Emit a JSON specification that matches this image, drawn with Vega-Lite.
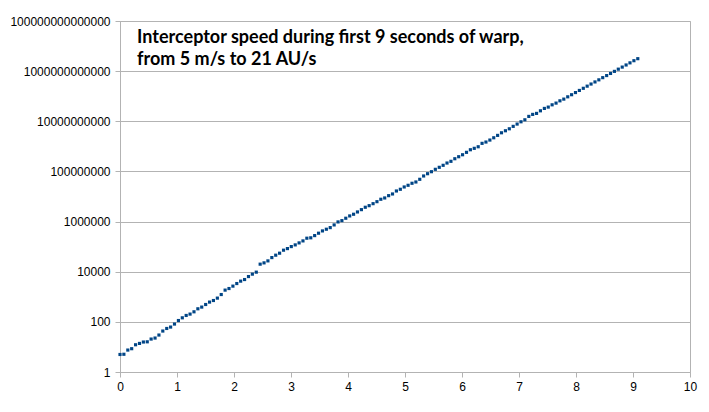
{
  "$schema": "https://vega.github.io/schema/vega-lite/v6.json",
  "width": 570,
  "height": 351,
  "autosize": {"type": "none"},
  "padding": {"left": 120, "top": 21, "right": 19, "bottom": 40},
  "background": "white",
  "config": {
    "view": {"stroke": "#b3b3b3", "strokeWidth": 1},
    "axis": {
      "labelFont": "Liberation Sans",
      "labelFontSize": 12,
      "labelColor": "#000000",
      "domainColor": "#b3b3b3",
      "tickColor": "#b3b3b3",
      "gridColor": "#b3b3b3",
      "tickSize": 5,
      "labelFlush": false,
      "title": null
    }
  },
  "layer": [
    {
      "data": {
        "values": [
          {"t": 0, "v": 5.0},
          {"t": 0.068, "v": 5.1},
          {"t": 0.137, "v": 7.5},
          {"t": 0.205, "v": 8.5},
          {"t": 0.273, "v": 12.2},
          {"t": 0.342, "v": 13.8},
          {"t": 0.41, "v": 15.7},
          {"t": 0.478, "v": 16},
          {"t": 0.546, "v": 20.6},
          {"t": 0.615, "v": 22.6},
          {"t": 0.683, "v": 29.8},
          {"t": 0.751, "v": 43},
          {"t": 0.82, "v": 54.5},
          {"t": 0.888, "v": 62},
          {"t": 0.956, "v": 81.6},
          {"t": 1.025, "v": 113},
          {"t": 1.093, "v": 145},
          {"t": 1.161, "v": 180},
          {"t": 1.229, "v": 204},
          {"t": 1.298, "v": 252},
          {"t": 1.366, "v": 332},
          {"t": 1.434, "v": 388},
          {"t": 1.503, "v": 492},
          {"t": 1.571, "v": 614},
          {"t": 1.639, "v": 710},
          {"t": 1.708, "v": 885},
          {"t": 1.776, "v": 1230},
          {"t": 1.844, "v": 1845},
          {"t": 1.912, "v": 2135},
          {"t": 1.981, "v": 2660},
          {"t": 2.049, "v": 3375},
          {"t": 2.117, "v": 4210},
          {"t": 2.186, "v": 4875},
          {"t": 2.254, "v": 6415},
          {"t": 2.322, "v": 8000},
          {"t": 2.391, "v": 9600},
          {"t": 2.459, "v": 20000},
          {"t": 2.527, "v": 22540},
          {"t": 2.595, "v": 27050},
          {"t": 2.664, "v": 36640},
          {"t": 2.732, "v": 45600},
          {"t": 2.8, "v": 54800},
          {"t": 2.869, "v": 72200},
          {"t": 2.937, "v": 83600},
          {"t": 3.005, "v": 1.005e5},
          {"t": 3.074, "v": 1.175e5},
          {"t": 3.142, "v": 1.41e5},
          {"t": 3.21, "v": 1.694e5},
          {"t": 3.278, "v": 2.17e5},
          {"t": 3.347, "v": 2.25e5},
          {"t": 3.415, "v": 2.755e5},
          {"t": 3.483, "v": 3.436e5},
          {"t": 3.552, "v": 4.24e5},
          {"t": 3.62, "v": 4.95e5},
          {"t": 3.688, "v": 5.74e5},
          {"t": 3.757, "v": 7.35e5},
          {"t": 3.825, "v": 9.68e5},
          {"t": 3.893, "v": 1.09e6},
          {"t": 3.961, "v": 1.358e6},
          {"t": 4.03, "v": 1.679e6},
          {"t": 4.098, "v": 1.96e6},
          {"t": 4.166, "v": 2.42e6},
          {"t": 4.235, "v": 2.99e6},
          {"t": 4.303, "v": 3.72e6},
          {"t": 4.371, "v": 4.31e6},
          {"t": 4.44, "v": 5.18e6},
          {"t": 4.508, "v": 6.22e6},
          {"t": 4.576, "v": 7.76e6},
          {"t": 4.644, "v": 8.74e6},
          {"t": 4.713, "v": 1.08e7},
          {"t": 4.781, "v": 1.262e7},
          {"t": 4.849, "v": 1.66e7},
          {"t": 4.918, "v": 1.94e7},
          {"t": 4.986, "v": 2.4e7},
          {"t": 5.054, "v": 2.8e7},
          {"t": 5.123, "v": 3.37e7},
          {"t": 5.191, "v": 3.79e7},
          {"t": 5.259, "v": 4.85e7},
          {"t": 5.327, "v": 6.58e7},
          {"t": 5.396, "v": 8.11e7},
          {"t": 5.464, "v": 9.75e7},
          {"t": 5.532, "v": 1.214e8},
          {"t": 5.601, "v": 1.459e8},
          {"t": 5.669, "v": 1.754e8},
          {"t": 5.737, "v": 2.163e8},
          {"t": 5.806, "v": 2.53e8},
          {"t": 5.874, "v": 3.21e8},
          {"t": 5.942, "v": 3.86e8},
          {"t": 6.01, "v": 4.63e8},
          {"t": 6.079, "v": 5.77e8},
          {"t": 6.147, "v": 7.33e8},
          {"t": 6.215, "v": 8.34e8},
          {"t": 6.284, "v": 9.64e8},
          {"t": 6.352, "v": 1.318e9},
          {"t": 6.42, "v": 1.486e9},
          {"t": 6.489, "v": 1.783e9},
          {"t": 6.557, "v": 2.2e9},
          {"t": 6.625, "v": 2.74e9},
          {"t": 6.693, "v": 3.48e9},
          {"t": 6.762, "v": 4.19e9},
          {"t": 6.83, "v": 5.02e9},
          {"t": 6.898, "v": 6.27e9},
          {"t": 6.967, "v": 7.74e9},
          {"t": 7.035, "v": 9.55e9},
          {"t": 7.103, "v": 1.148e10},
          {"t": 7.172, "v": 1.567e10},
          {"t": 7.24, "v": 1.884e10},
          {"t": 7.308, "v": 2.065e10},
          {"t": 7.376, "v": 2.62e10},
          {"t": 7.445, "v": 3.26e10},
          {"t": 7.513, "v": 3.68e10},
          {"t": 7.581, "v": 4.54e10},
          {"t": 7.65, "v": 5.31e10},
          {"t": 7.718, "v": 6.55e10},
          {"t": 7.786, "v": 7.66e10},
          {"t": 7.855, "v": 9.46e10},
          {"t": 7.923, "v": 1.148e11},
          {"t": 7.991, "v": 1.4e11},
          {"t": 8.059, "v": 1.7e11},
          {"t": 8.128, "v": 2.07e11},
          {"t": 8.196, "v": 2.52e11},
          {"t": 8.264, "v": 3.06e11},
          {"t": 8.333, "v": 3.71e11},
          {"t": 8.401, "v": 4.5e11},
          {"t": 8.469, "v": 5.5e11},
          {"t": 8.538, "v": 6.67e11},
          {"t": 8.606, "v": 8.09e11},
          {"t": 8.674, "v": 9.8e11},
          {"t": 8.742, "v": 1.2e12},
          {"t": 8.811, "v": 1.45e12},
          {"t": 8.879, "v": 1.76e12},
          {"t": 8.947, "v": 2.14e12},
          {"t": 9.016, "v": 2.61e12},
          {"t": 9.084, "v": 3.14e12}
        ]
      },
      "mark": {"type": "point", "shape": "square", "filled": true, "size": 10, "color": "#004586", "opacity": 1, "strokeWidth": 0},
      "encoding": {
        "x": {
          "field": "t",
          "type": "quantitative",
          "scale": {"domain": [0, 10], "nice": false, "zero": false},
          "axis": {"values": [0, 1, 2, 3, 4, 5, 6, 7, 8, 9, 10], "grid": false, "labelPadding": 4, "format": "d"}
        },
        "y": {
          "field": "v",
          "type": "quantitative",
          "scale": {"type": "log", "domain": [1, 100000000000000], "nice": false},
          "axis": {
            "values": [1, 100, 10000, 1000000, 100000000, 10000000000, 1000000000000, 100000000000000],
            "format": "d",
            "grid": true,
            "labelPadding": 5
          }
        }
      }
    },
    {
      "data": {"values": [{"line1": "Interceptor speed during first 9 seconds of warp,", "line2": "from 5 m/s to 21 AU/s"}]},
      "transform": [{"fold": ["line1", "line2"], "as": ["key", "label"]}],
      "mark": {
        "type": "text",
        "font": "Lato",
        "fontSize": 18,
        "fontWeight": "bold",
        "color": "#000000",
        "align": "left",
        "baseline": "alphabetic"
      },
      "encoding": {
        "x": {"datum": 0.3, "type": "quantitative"},
        "y": {"field": "key", "type": "nominal", "scale": {"type": "point", "domain": ["line1", "line2"], "range": [22, 44], "padding": 0}, "axis": null},
        "text": {"field": "label", "type": "nominal"}
      }
    }
  ],
  "resolve": {"scale": {"y": "independent"}}
}
